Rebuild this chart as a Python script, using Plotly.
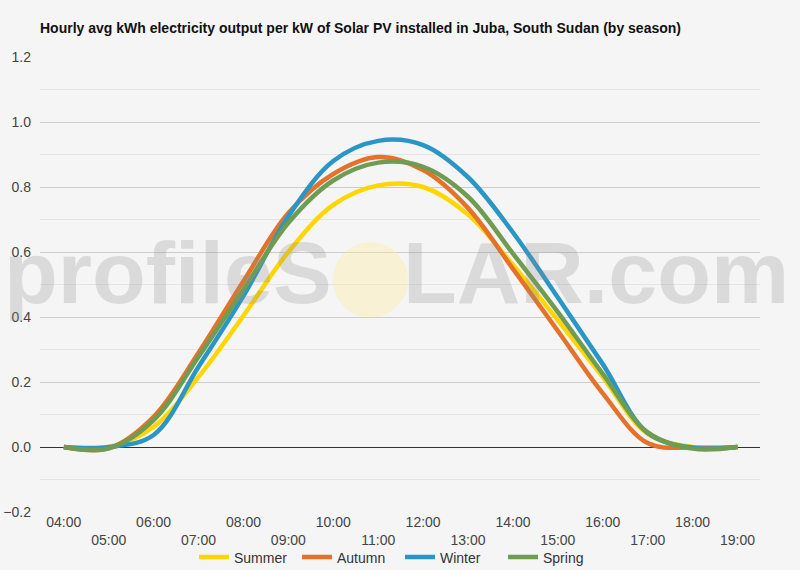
import plotly.graph_objects as go

# hourly averages
hours = list(range(4, 20))
hour_labels = ["04:00", "05:00", "06:00", "07:00", "08:00", "09:00", "10:00", "11:00",
               "12:00", "13:00", "14:00", "15:00", "16:00", "17:00", "18:00", "19:00"]

summer = [0.0, 0.0, 0.062, 0.216, 0.404, 0.60, 0.745, 0.805, 0.80, 0.715, 0.56, 0.39, 0.215, 0.04, 0.0, 0.0]
autumn = [0.0, -0.004, 0.093, 0.29, 0.51, 0.72, 0.84, 0.892, 0.852, 0.735, 0.548, 0.357, 0.165, 0.012, -0.002, 0.0]
winter = [0.0, 0.0, 0.037, 0.247, 0.465, 0.71, 0.88, 0.942, 0.929, 0.83, 0.66, 0.46, 0.255, 0.043, -0.002, 0.0]
spring = [0.0, -0.004, 0.083, 0.278, 0.485, 0.69, 0.82, 0.875, 0.862, 0.77, 0.595, 0.415, 0.225, 0.045, -0.005, 0.0]

series = [("Summer", summer, "#FFD600"),
          ("Autumn", autumn, "#E5722A"),
          ("Winter", winter, "#2A96C6"),
          ("Spring", spring, "#6E9C52")]

# staggered x labels: odd hours drop to a second row
tick_text = [lab if i % 2 == 0 else "<br>" + lab for i, lab in enumerate(hour_labels)]

fig = go.Figure()
for name, vals, col in series:
    fig.add_trace(go.Scatter(x=hours, y=vals, name=name, mode="lines",
                             line=dict(color=col, width=4.5, shape="spline", smoothing=1)))

# watermark: "profileS" + sun + "LAR.com"
wm_font = dict(family="Liberation Sans, Arial", size=88, color="rgba(140,140,140,0.25)")
fig.add_annotation(text="<b>profileS</b>", xref="paper", yref="paper",
                   x=(334 - 40) / 720, xanchor="right", y=0.526, yanchor="middle",
                   showarrow=False, font=wm_font)
fig.add_annotation(text="<b>LAR.com</b>", xref="paper", yref="paper",
                   x=(401 - 40) / 720, xanchor="left", y=0.526, yanchor="middle",
                   showarrow=False, font=wm_font)
fig.add_shape(type="circle", xref="paper", yref="paper",
              x0=(333 - 40) / 720, x1=(408 - 40) / 720,
              y0=(512 - 318) / 455, y1=(512 - 242) / 455,
              fillcolor="rgba(255,236,150,0.35)", line=dict(width=0), layer="above")

fig.update_layout(
    width=800, height=570,
    paper_bgcolor="#F5F5F5", plot_bgcolor="#F5F5F5",
    margin=dict(l=40, r=40, t=57, b=58, autoexpand=False),
    font=dict(family="Liberation Sans, Arial", size=14, color="#444444"),
    title=dict(text="<b>Hourly avg kWh electricity output per kW of Solar PV installed in Juba, South Sudan (by season)</b>",
               x=40 / 800, xanchor="left", y=1 - 28 / 570, yanchor="middle",
               pad=dict(l=0, r=0, t=0, b=0),
               font=dict(size=14, color="#111111")),
    showlegend=True,
    legend=dict(orientation="h", x=0.5, xanchor="center", y=-0.1, yanchor="middle",
                font=dict(size=14, color="#333333"), bgcolor="rgba(0,0,0,0)",
                itemwidth=30, entrywidthmode="pixels", entrywidth=58),
    xaxis=dict(range=[3.47, 19.5], tickvals=hours, ticktext=tick_text, showgrid=False,
               zeroline=False, showline=False, ticks="", tickangle=0, automargin=False,
               tickfont=dict(size=14, color="#444444")),
    yaxis=dict(range=[-0.2, 1.2], dtick=0.2, tickformat=".1f", showgrid=True,
               gridcolor="#CCCCCC", gridwidth=1, zeroline=True, zerolinecolor="#333333",
               zerolinewidth=1, showline=False, ticks="", ticklabelstandoff=8, automargin=False,
               minor=dict(dtick=0.1, showgrid=True, gridcolor="#E4E4E4", gridwidth=1),
               tickfont=dict(size=14, color="#444444")),
)

# drop the browser's default 8px body margin so the figure fills the window
fig.write_html("out.html", config={"displayModeBar": False},
               post_script="document.body.style.margin='0';document.body.style.background='#F5F5F5';")
